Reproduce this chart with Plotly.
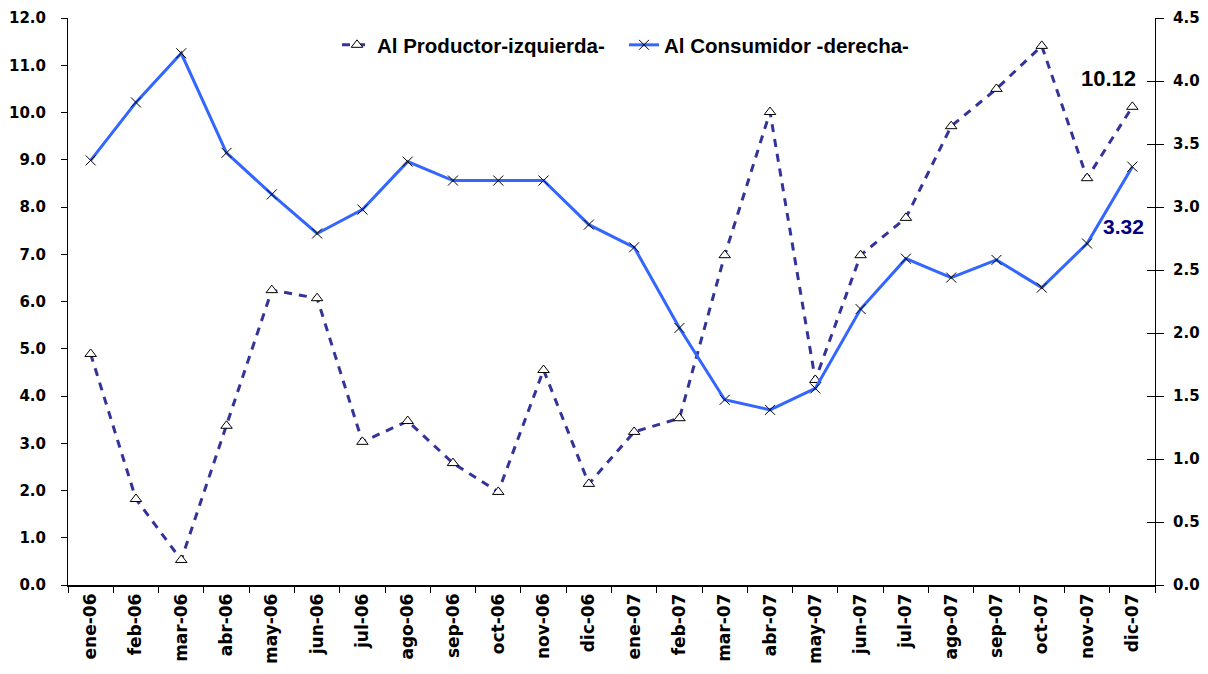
import plotly.graph_objects as go

categories = ["ene-06","feb-06","mar-06","abr-06","may-06","jun-06","jul-06","ago-06","sep-06","oct-06","nov-06","dic-06",
              "ene-07","feb-07","mar-07","abr-07","may-07","jun-07","jul-07","ago-07","sep-07","oct-07","nov-07","dic-07"]
productor = [4.89, 1.82, 0.53, 3.37, 6.24, 6.07, 3.03, 3.47, 2.58, 1.97, 4.55, 2.14,
             3.24, 3.53, 6.98, 10.01, 4.34, 6.98, 7.77, 9.71, 10.50, 11.41, 8.61, 10.12]
consumidor = [3.37, 3.83, 4.22, 3.43, 3.10, 2.79, 2.98, 3.36, 3.21, 3.21, 3.21, 2.86,
              2.68, 2.04, 1.47, 1.39, 1.56, 2.19, 2.59, 2.44, 2.58, 2.36, 2.71, 3.32]
left_ticks = [0, 1, 2, 3, 4, 5, 6, 7, 8, 9, 10, 11, 12]
left_ticktext = ["0.0","1.0","2.0","3.0","4.0","5.0","6.0","7.0","8.0","9.0","10.0","11.0","12.0"]
right_ticks = [0, 0.5, 1.0, 1.5, 2.0, 2.5, 3.0, 3.5, 4.0, 4.5]
right_ticktext = ["0.0","0.5","1.0","1.5","2.0","2.5","3.0","3.5","4.0","4.5"]

# page has an 8px body margin, so the figure is shifted by 8px;
# keep the page from overflowing vertically so no scrollbar appears
OFF = 8
W, H = 1208 - OFF, 674 - 2 * OFF
L, R, T, B = 68, 1155, 18, 585   # plot area in screen pixels

def px(x):
    return (x - L) / (R - L)

def py(y):
    return (B - y) / (B - T)

def b(s):
    return "<b>" + s + "</b>"

TICKFAM = "DejaVu Sans, Verdana, sans-serif"
TXTFAM = "Liberation Sans, Arial, sans-serif"

fig = go.Figure()
fig.add_trace(go.Scatter(
    x=categories, y=productor, name=b("Al Productor-izquierda-"), mode="lines+markers",
    line=dict(color="#333399", width=3, dash="8px,7px"),
    marker=dict(symbol="triangle-up", size=10, color="white", line=dict(color="black", width=1)),
    yaxis="y"))
fig.add_trace(go.Scatter(
    x=categories, y=consumidor, name=b("Al Consumidor -derecha-"), mode="lines+markers",
    line=dict(color="#3366FF", width=3),
    marker=dict(symbol="x-thin-open", size=10, color="black", line=dict(color="black", width=1)),
    yaxis="y2"))
# helper trace so that the crossing-tick axis is drawn
fig.add_trace(go.Scatter(x=[categories[0]], y=[None], yaxis="y3", showlegend=False, hoverinfo="skip"))

fig.update_layout(
    width=W, height=H, autosize=False,
    margin=dict(l=L - OFF, r=(W + OFF) - R, t=T - OFF, b=(H + OFF) - B),
    plot_bgcolor="white", paper_bgcolor="white",
    showlegend=True,
    legend=dict(orientation="h", x=px(337), y=py(45), xanchor="left", yanchor="middle",
                font=dict(family=TXTFAM, size=20.5, color="black"), bgcolor="rgba(0,0,0,0)",
                itemwidth=30, entrywidth=242, entrywidthmode="pixels"),
    xaxis=dict(type="category", range=[-0.5, 23.5], tickangle=-90, tickson="boundaries",
               tickvals=categories, ticktext=[b(c) for c in categories],
               ticks="outside", ticklen=6, tickcolor="black", showline=True, linecolor="black",
               linewidth=1.5, showgrid=False, zeroline=False,
               tickfont=dict(family=TICKFAM, size=17, color="black"), automargin=False),
    yaxis=dict(range=[0, 12], tickvals=left_ticks, ticktext=[b(t) for t in left_ticktext], ticks="outside",
               ticklen=6, tickcolor="black", showline=True, linecolor="black", linewidth=1,
               showgrid=False, zeroline=False, ticklabelstandoff=12,
               tickfont=dict(family=TICKFAM, size=15, color="black"), automargin=False),
    yaxis2=dict(range=[0, 4.5], tickvals=right_ticks, ticktext=[b(t) for t in right_ticktext], overlaying="y",
                side="right", ticks="outside", ticklen=8, tickcolor="black", showline=True,
                linecolor="black", linewidth=1, showgrid=False, zeroline=False, ticklabelstandoff=6,
                tickfont=dict(family=TICKFAM, size=15, color="black"), automargin=False),
    yaxis3=dict(range=[0, 4.5], tickvals=right_ticks, overlaying="y", side="right",
                anchor="x", ticks="inside", ticklen=8, tickcolor="black", showticklabels=False,
                showline=False, showgrid=False, zeroline=False, automargin=False),
)

fig.add_annotation(x=categories[-1], y=productor[-1], yref="y", text=b("10.12"), showarrow=False,
                   xshift=-24, yshift=28, font=dict(family=TXTFAM, size=22, color="black"))
fig.add_annotation(x=categories[-1], y=consumidor[-1], yref="y2", text=b("3.32"), showarrow=False,
                   xshift=-9, yshift=-60, font=dict(family=TXTFAM, size=21, color="#000080"))

fig.write_html("out.html")
